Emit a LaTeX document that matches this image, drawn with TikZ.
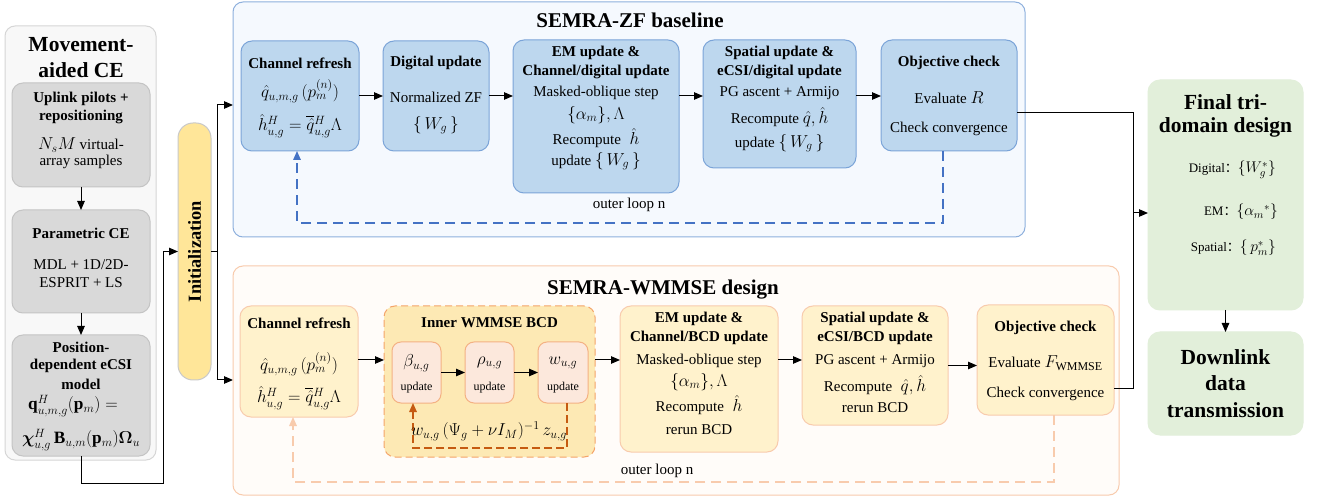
\RequirePackage{fix-cm}
\documentclass[tikz,border=0pt]{standalone}
\usepackage{amsmath}
\usepackage{bm}
\usepackage{fontspec}
\setmainfont{Liberation Serif}
\newfontfamily\cjk{Noto Sans CJK SC}
\usetikzlibrary{arrows.meta}
\DeclareMathSizes{15}{17.28}{12}{9}
\DeclareMathSizes{13}{15.5}{11}{8}
\definecolor{cLO}{HTML}{F8F8F8}
\definecolor{cLOb}{HTML}{D6D6D6}
\definecolor{cG}{HTML}{D9D9D9}
\definecolor{cGb}{HTML}{C4C4C4}
\definecolor{cInit}{HTML}{FFE699}
\definecolor{cInitb}{HTML}{C9C9C9}
\definecolor{cZO}{HTML}{F5F9FE}
\definecolor{cZOb}{HTML}{8EB0DD}
\definecolor{cZ}{HTML}{BDD7EE}
\definecolor{cZb}{HTML}{7BA4D8}
\definecolor{cZd}{HTML}{4472C4}
\definecolor{cWO}{HTML}{FFFCF9}
\definecolor{cWOb}{HTML}{F8CBAD}
\definecolor{cW}{HTML}{FFF2CC}
\definecolor{cWb}{HTML}{F8CBAD}
\definecolor{cIn}{HTML}{FDE9B4}
\definecolor{cInb}{HTML}{F4A46A}
\definecolor{cSm}{HTML}{FCE8DC}
\definecolor{cSmb}{HTML}{F4B183}
\definecolor{cId}{HTML}{C55A11}
\definecolor{cF}{HTML}{E2EFDA}
\newcommand\fbody{\fontsize{15}{18}\selectfont}
\newcommand\fbig{\fontsize{21.5}{26}\selectfont}
\newcommand\fsec{\fontsize{21}{25}\selectfont}
\newcommand\fsmall{\fontsize{12}{14}\selectfont}
\newcommand\ffin{\fontsize{13}{16}\selectfont}
\tikzset{
  base/.style={inner sep=0pt, outer sep=0pt, line width=1pt, rounded corners=11pt},
  lout/.style={base, fill=cLO, draw=cLOb, rounded corners=10pt},
  gbox/.style={base, fill=cG, draw=cGb},
  initbox/.style={base, fill=cInit, draw=cInitb, rounded corners=15pt},
  zout/.style={base, fill=cZO, draw=cZOb, rounded corners=10pt},
  zbox/.style={base, fill=cZ, draw=cZb},
  wout/.style={base, fill=cWO, draw=cWOb, rounded corners=10pt},
  wbox/.style={base, fill=cW, draw=cWb},
  inbox/.style={base, fill=cIn, draw=cInb, dashed, dash pattern=on 7pt off 4pt},
  smbox/.style={base, fill=cSm, draw=cSmb, rounded corners=9pt},
  finbox/.style={base, fill=cF, draw=cF, rounded corners=12pt},
  t/.style={inner sep=0pt, font=\fbody, align=center},
  tb/.style={inner sep=0pt, font=\fbody\bfseries, align=center},
  tbig/.style={inner sep=0pt, font=\fbig\bfseries, align=center},
  tsec/.style={inner sep=0pt, font=\fsec\bfseries, align=center},
  tsm/.style={inner sep=0pt, font=\fsmall, align=center},
  tfin/.style={inner sep=0pt, font=\ffin, anchor=east},
  arr/.style={-{Triangle[length=9pt,width=7.5pt]}, line width=1pt, black},
  ln/.style={line width=1pt, black},
  zdash/.style={-{Triangle[length=9pt,width=7.5pt]}, line width=1.5pt, cZd, dash pattern=on 10pt off 6pt},
  wdash/.style={-{Triangle[length=9pt,width=7.5pt]}, line width=1.5pt, cWOb, dash pattern=on 10pt off 6pt},
  idash/.style={-{Triangle[length=9pt,width=7.5pt]}, line width=1.5pt, cId, dash pattern=on 8pt off 4pt},
}
\begin{document}
\begin{tikzpicture}[x=1pt,y=-1pt]
\useasboundingbox[fill=white] (0,0) rectangle (1317,502);

% ---------------- left column ----------------
\node[lout, minimum width=151pt, minimum height=434pt] (LO) at (80.5,243) {};
\node[tbig] (LOt1) at (81,45) {Movement-};
\node[tbig] (LOt2) at (81,70) {aided CE};

\node[gbox, minimum width=138pt, minimum height=104pt] (L1) at (81,135) {};
\node[tb] (L1a) at (81,99) {Uplink pilots +};
\node[tb] (L1b) at (81,117) {repositioning};
\node[t] (L1c) at (81,145) {$N_sM$ virtual-};
\node[t] (L1d) at (81,162) {array samples};

\node[gbox, minimum width=138pt, minimum height=103pt] (L2) at (81,261.5) {};
\node[tb] (L2a) at (81,233) {Parametric CE};
\node[t] (L2b) at (81,265) {MDL + 1D/2D-};
\node[t] (L2c) at (81,283) {ESPRIT + LS};

\node[gbox, minimum width=138pt, minimum height=121pt] (L3) at (81,395.5) {};
\node[tb] (L3a) at (81,347) {Position-};
\node[tb] (L3b) at (81,366) {dependent eCSI};
\node[tb] (L3c) at (81,384) {model};
\node[t, anchor=west] (L3d) at (28,406) {$\mathbf{q}^{H}_{u,m,g}(\mathbf{p}_m) =$};
\node[t] (L3e) at (81,440) {$\boldsymbol{\chi}^{H}_{u,g}\,\mathbf{B}_{u,m}(\mathbf{p}_m)\boldsymbol{\Omega}_u$};

\draw[arr] (L1.south) -- (L2.north);
\draw[arr] (L2.south) -- (L3.north);

% ---------------- initialization ----------------
\node[initbox, minimum width=33pt, minimum height=257pt] (init) at (194.5,251.5) {};
\node[inner sep=0pt, font=\fontsize{18.4}{22}\selectfont\bfseries, rotate=90] (initT) at (init.center) {Initialization};

\coordinate (c1) at (163,483);
\draw[arr] (L3.south) |- (c1) |- (init.west);
\coordinate (bus) at (217,252);
\coordinate (zfin) at (233,105);
\coordinate (wmin) at (233,380);
\draw[ln] (init.east |- bus) -- (bus);
\draw[arr] (bus) |- (zfin);
\draw[arr] (bus) |- (wmin);

% ---------------- SEMRA-ZF ----------------
\node[zout, minimum width=792pt, minimum height=235pt] (zo) at (629,119.5) {};
\node[tsec] (zoT) at (630,20) {SEMRA-ZF baseline};

\node[zbox, minimum width=118pt, minimum height=110pt] (zcr) at (300,96) {};
\node[tb] (zcr1) at (300,63) {Channel refresh};
\node[t] (zcr2) at (300,91) {$\hat{q}_{u,m,g}\,(p_m^{(n)})$};
\node[t] (zcr3) at (300,126) {$\hat{h}^{H}_{u,g}=\overline{\hat{q}}{}^{H}_{u,g}\Lambda$};

\node[zbox, minimum width=106pt, minimum height=110pt] (zdu) at (436,96) {};
\node[tb] (zdu1) at (436,63) {Digital update};
\node[t] (zdu2) at (436,97) {Normalized ZF};
\node[t] (zdu3) at (436,125) {$\{\,W_g\,\}$};

\node[zbox, minimum width=166pt, minimum height=153pt] (zem) at (596,116.5) {};
\node[tb] (zem1) at (596,53) {EM update \&};
\node[tb] (zem2) at (596,72) {Channel/digital update};
\node[t] (zem3) at (596,93) {Masked-oblique step};
\node[t] (zem4) at (596,115) {$\{\alpha_m\},\Lambda$};
\node[t] (zem5) at (596,138) {Recompute $\;\hat{h}$};
\node[t] (zem6) at (596,161) {update $\{\,W_g\,\}$};

\node[zbox, minimum width=153pt, minimum height=128pt] (zsp) at (779.5,104) {};
\node[tb] (zsp1) at (779.5,53) {Spatial update \&};
\node[tb] (zsp2) at (779.5,72) {eCSI/digital update};
\node[t] (zsp3) at (779.5,93) {PG ascent + Armijo};
\node[t] (zsp4) at (779.5,117) {Recompute $\hat{q},\hat{h}$};
\node[t] (zsp5) at (779.5,143) {update $\{\,W_g\,\}$};

\node[zbox, minimum width=136pt, minimum height=111pt] (zob) at (949,95.5) {};
\node[tb] (zob1) at (949,63) {Objective check};
\node[t] (zob2) at (949,98) {Evaluate $R$};
\node[t] (zob3) at (949,129) {Check convergence};

\draw[arr] (zcr.east) -- (zcr.east -| zdu.west);
\draw[arr] (zdu.east) -- (zdu.east -| zem.west);
\draw[arr] (zem.east |- zdu.east) -- (zdu.east -| zsp.west);
\draw[arr] (zsp.east |- zdu.east) -- (zdu.east -| zob.west);

\coordinate (zl1) at (943,223);
\coordinate (zl2) at (297,223);
\draw[zdash] (zob.south -| zl1) -- (zl1) -- (zl2) -- (zl2 |- zcr.south);
\node[t] (zloop) at (629,205) {outer loop n};

% ---------------- SEMRA-WMMSE ----------------
\node[wout, minimum width=886pt, minimum height=229pt] (wo) at (676,380.5) {};
\node[tsec] (woT) at (663,290) {SEMRA-WMMSE design};

\node[wbox, minimum width=118pt, minimum height=111pt] (wcr) at (299,361.5) {};
\node[tb] (wcr1) at (299,323) {Channel refresh};
\node[t] (wcr2) at (299,364) {$\hat{q}_{u,m,g}\,(p_m^{(n)})$};
\node[t] (wcr3) at (299,398) {$\hat{h}^{H}_{u,g}=\overline{\hat{q}}{}^{H}_{u,g}\Lambda$};

\node[inbox, minimum width=211pt, minimum height=151pt] (win) at (489.5,381.5) {};
\node[tb] (win1) at (489.5,323) {Inner WMMSE BCD};
\node[smbox, minimum width=49pt, minimum height=61pt] (wb) at (416.5,372.5) {};
\node[smbox, minimum width=49pt, minimum height=61pt] (wr) at (489.5,372.5) {};
\node[smbox, minimum width=50pt, minimum height=61pt] (ww) at (563,372.5) {};
\node[t] (wb1) at (416.5,363) {$\beta_{u,g}$};
\node[tsm] (wb2) at (416.5,388) {update};
\node[t] (wr1) at (489.5,363) {$\rho_{u,g}$};
\node[tsm] (wr2) at (489.5,388) {update};
\node[t] (ww1) at (563,363) {$w_{u,g}$};
\node[tsm] (ww2) at (563,388) {update};
\draw[arr] (wb.east) -- (wr.west);
\draw[arr] (wr.east) -- (ww.west);
\coordinate (ia) at (567,448);
\coordinate (ib) at (413,448);
\draw[idash] (ww.south -| ia) -- (ia) -- (ib) -- (ib |- wb.south);
\node[t] (wlab) at (489,431) {$w_{u,g}\,(\Psi_g+\nu I_M)^{-1}\,z_{u,g}$};

\node[wbox, minimum width=158pt, minimum height=146pt] (wem) at (699,379) {};
\node[tb] (wem1) at (699,319) {EM update \&};
\node[tb] (wem2) at (699,338) {Channel/BCD update};
\node[t] (wem3) at (699,361) {Masked-oblique step};
\node[t] (wem4) at (699,382) {$\{\alpha_m\},\Lambda$};
\node[t] (wem5) at (699,405) {Recompute $\;\hat{h}$};
\node[t] (wem6) at (699,430) {rerun BCD};

\node[wbox, minimum width=146pt, minimum height=119pt] (wsp) at (875,365.5) {};
\node[tb] (wsp1) at (875,319) {Spatial update \&};
\node[tb] (wsp2) at (875,338) {eCSI/BCD update};
\node[t] (wsp3) at (875,361) {PG ascent + Armijo};
\node[t] (wsp4) at (875,385) {Recompute $\;\hat{q},\hat{h}$};
\node[t] (wsp5) at (875,408) {rerun BCD};

\node[wbox, minimum width=137pt, minimum height=110pt] (wob) at (1045.5,360) {};
\node[tb] (wob1) at (1045.5,328) {Objective check};
\node[t] (wob2) at (1045.5,363) {Evaluate $F_{\text{WMMSE}}$};
\node[t] (wob3) at (1045.5,394) {Check convergence};

\coordinate (wy) at (300,360);
\draw[arr] (wcr.east |- wy) -- (wy -| win.west);
\draw[arr] (win.east |- wy) -- (wy -| wem.west);
\draw[arr] (wem.east |- wy) -- (wy -| wsp.west);
\draw[arr] (wsp.east) -- (wsp.east -| wob.west);

\coordinate (wl1) at (1054,482);
\coordinate (wl2) at (293,482);
\draw[wdash] (wob.south -| wl1) -- (wl1) -- (wl2) -- (wl2 |- wcr.south);
\node[t] (wloop) at (657,471) {outer loop n};

% ---------------- right column ----------------
\node[finbox, minimum width=155pt, minimum height=230pt] (fin) at (1225.5,195) {};
\node[tbig] (fin1) at (1225.5,102) {Final tri-};
\node[tbig] (fin2) at (1225.5,127) {domain design};
\node[tfin] (fin3) at (1276,170) {Digital{\cjk ：}$\{W_g^{*}\}$};
\node[tfin] (fin4) at (1278,212) {EM{\cjk ：}$\{\alpha_m{}^{*}\}$};
\node[tfin] (fin5) at (1276,248) {Spatial{\cjk ：}$\{\,p_m^{*}\}$};

\node[finbox, minimum width=155pt, minimum height=103pt] (dl) at (1225.5,383.5) {};
\node[tbig] (dl1) at (1225.5,357) {Downlink};
\node[tbig] (dl2) at (1225.5,383) {data};
\node[tbig] (dl3) at (1225.5,410) {transmission};

\draw[arr] (fin.south) -- (dl.north);

\coordinate (jt) at (1133,113);
\coordinate (jm) at (1133,213);
\coordinate (jb) at (1133,389);
\draw[ln] (zob.east |- jt) -- (jt) -- (jb) -- (jb -| wob.east);
\draw[arr] (jm) -- (jm -| fin.west);
\end{tikzpicture}
\end{document}
